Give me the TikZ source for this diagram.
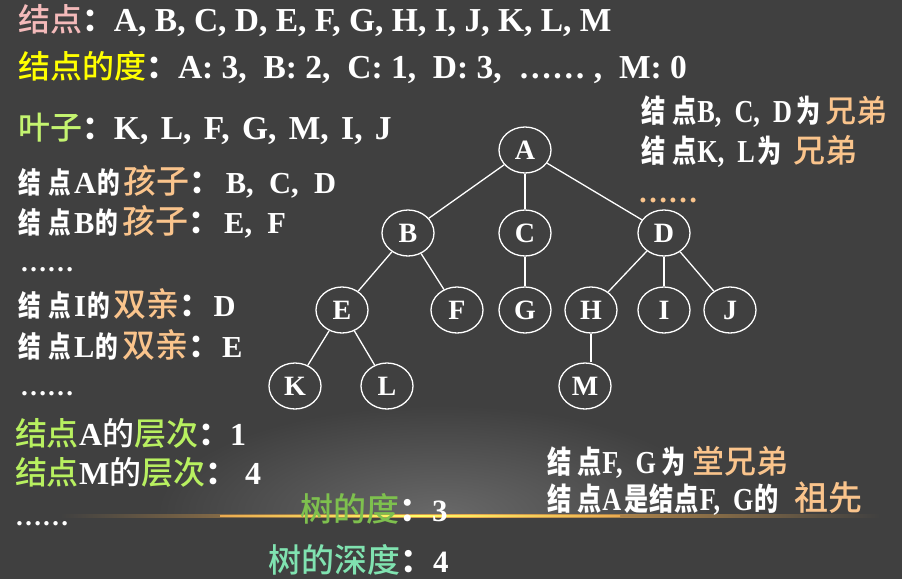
\documentclass[tikz,border=0pt]{standalone}
\usepackage{fontspec}
\usetikzlibrary{shapes.geometric}
\setmainfont{Liberation Serif}
\newfontfamily\zhcfont{Noto Sans CJK SC Medium}
\newfontfamily\zhqfont{Noto Sans CJK SC}
\newfontfamily\zhwfont[FakeStretch=0.78]{Noto Sans CJK SC}
\newfontfamily\ltnfont[FakeStretch=0.82]{Liberation Serif}
\definecolor{bgc}{RGB}{64,64,64}
\definecolor{streakc}{RGB}{235,170,80}
\definecolor{pinkc}{RGB}{244,186,186}
\definecolor{yelc}{RGB}{255,255,0}
\definecolor{leafc}{RGB}{196,244,112}
\definecolor{lvlc}{RGB}{184,240,96}
\definecolor{degc}{RGB}{126,192,78}
\definecolor{depc}{RGB}{128,226,176}
\definecolor{peachc}{RGB}{250,196,140}
\newcommand\fs[1]{\fontsize{#1}{#1}\selectfont}
\newcommand\zw[1]{{\zhwfont\bfseries #1}}
\newcommand\zc[3]{{\fs{#2}\zhcfont\mdseries\color{#1}#3}}
\newcommand\zq[1]{{\fs{#1}\zhqfont\bfseries\color{white}：}}
\newcommand\lt[1]{{\ltnfont\bfseries #1}}
\newcommand\hs[1]{\hspace{#1pt}}
\tikzset{
  txt/.style={anchor=base west, inner sep=0pt, outer sep=0pt, text=white, font=\bfseries},
  tnode/.style={ellipse, draw=white, line width=1.3pt, minimum width=52pt, minimum height=46pt, inner sep=0pt, text=white, font=\fs{28}\bfseries},
  tedge/.style={draw=white, line width=1.3pt}
}
\begin{document}
\begin{tikzpicture}[x=1pt,y=-1pt]
\fill[bgc] (0,0) rectangle (902,579);
\useasboundingbox (0,0) rectangle (902,579);
% glow and streak
\begin{scope}
\clip (0,0) rectangle (902,515);
\foreach \k in {1,...,40}{
  \fill[white, fill opacity=0.008] (440,515) ellipse [x radius={7*\k*1pt}, y radius={2.7*\k*1pt}];
}
\end{scope}
\fill[left color=bgc, right color=bgc, middle color=streakc] (60,514.5) rectangle (880,517.5);
\fill[left color=streakc, right color=streakc, middle color=yellow!60!white] (220,515.3) rectangle (620,516.7);

% top lines
\node[txt] (l1) at (18,31) {\fs{33.5}\zc{pinkc}{32}{结点}\zq{32}A, B, C, D, E, F, G, H, I, J, K, L, M};
\node[txt] (l2) at (18,78) {\fs{33.5}\zc{yelc}{32}{结点的度}\zq{32}A: 3,\ \ B: 2,\ \ C: 1,\ \ D: 3,\ \ …… ,\ \ M: 0};
\node[txt] (l3) at (18,139) {\fs{33.5}\zc{leafc}{32}{叶子}\zq{32}K,\ \hs{4}L,\ \hs{4}F,\ \hs{4}G,\ \hs{4}M,\ \hs{4}I,\ \hs{4}J};

% left block
\node[txt] (ch1) at (19,193) {\fs{29}\zw{结}\hs{7}\zw{点}\hs{3}\fs{30.5}A\hs{1}\fs{29}\zw{的}\hs{4}\zc{peachc}{33}{孩子}\zq{32}\hs{4}\fs{30.5}B,\ \ C,\ \ D};
\node[txt] (ch2) at (19,233) {\fs{29}\zw{结}\hs{7}\zw{点}\hs{3}\fs{30.5}B\hs{1}\fs{29}\zw{的}\hs{4}\zc{peachc}{33}{孩子}\zq{32}\hs{4}\fs{30.5}E,\ \ F};
\node[txt] (d1) at (20,271) {\fs{27}……};
\node[txt] (pa1) at (19,316) {\fs{29}\zw{结}\hs{7}\zw{点}\hs{3}\fs{30.5}I\hs{1}\fs{29}\zw{的}\hs{4}\zc{peachc}{33}{双亲}\zq{32}\hs{2}\fs{30.5}D};
\node[txt] (pa2) at (19,357) {\fs{29}\zw{结}\hs{7}\zw{点}\hs{3}\fs{30.5}L\hs{1}\fs{29}\zw{的}\hs{4}\zc{peachc}{33}{双亲}\zq{32}\hs{2}\fs{30.5}E};
\node[txt] (d2) at (20,395) {\fs{27}……};
\node[txt] (lv1) at (15,445) {\fs{32}\zc{lvlc}{32}{结点}A\zc{white}{32}{的}\zc{lvlc}{32}{层次}\zq{32}1};
\node[txt] (lv2) at (15,484) {\fs{32}\zc{lvlc}{32}{结点}M\zc{white}{32}{的}\zc{lvlc}{32}{层次}\zq{32}\ 4};
\node[txt] (d3) at (15,525) {\fs{27}……};
\node[txt] (tdeg) at (300,521) {\fs{31}\zc{degc}{33}{树的度}\zq{33}3};
\node[txt] (tdep) at (268,572) {\fs{31}\zc{depc}{33}{树的深度}\zq{33}4};

% right block
\node[txt] (br1) at (641,122) {\fs{31}\zw{结}\hs{7}\zw{点}\hs{1}\fs{32}\lt{B,\ \ C,\ \ D}\hs{4}\fs{31}\zw{为}\hs{5}\zc{peachc}{31}{兄弟}};
\node[txt] (br2) at (641,162) {\fs{31}\zw{结}\hs{7}\zw{点}\hs{1}\fs{32}\lt{K,\ \ L}\hs{3}\fs{31}\zw{为}\hs{11}\zc{peachc}{32}{兄弟}};
\node[txt, text=peachc] (d4) at (638,202) {\fs{30}……};
\node[txt] (cz) at (547,473) {\fs{31}\zw{结}\hs{6}\zw{点}\hs{1}\fs{32}\lt{F,\ \ G}\hs{5}\fs{31}\zw{为}\hs{7}\zc{peachc}{32}{堂兄弟}};
\node[txt] (anc) at (547,510) {\fs{31}\zw{结}\hs{6}\zw{点}\hs{1}\fs{32}\lt{A}\hs{3}\fs{31}\zw{是}\hs{1}\zw{结}\hs{1}\zw{点}\hs{1}\fs{32}\lt{F,\ \ G}\hs{1}\fs{31}\zw{的}\hs{16}\zc{peachc}{34}{祖先}};

% tree
\node[tnode] (A) at (525,150) {A};
\node[tnode] (B) at (408,233) {B};
\node[tnode] (C) at (525,233) {C};
\node[tnode] (D) at (664,233) {D};
\node[tnode] (E) at (342,310) {E};
\node[tnode] (F) at (457,310) {F};
\node[tnode] (G) at (525,310) {G};
\node[tnode] (H) at (591,310) {H};
\node[tnode] (I) at (664,310) {I};
\node[tnode] (J) at (730,310) {J};
\node[tnode] (K) at (295,386) {K};
\node[tnode] (L) at (387,386) {L};
\node[tnode] (M) at (585,386) {M};
\draw[tedge] (A) -- (B);
\draw[tedge] (A) -- (C);
\draw[tedge] (A) -- (D);
\draw[tedge] (B) -- (E);
\draw[tedge] (B) -- (F);
\draw[tedge] (C) -- (G);
\draw[tedge] (D) -- (H);
\draw[tedge] (D) -- (I);
\draw[tedge] (D) -- (J);
\draw[tedge] (E) -- (K);
\draw[tedge] (E) -- (L);
\draw[tedge] (H.south) -- (H.south |- M.north);
\end{tikzpicture}
\end{document}
